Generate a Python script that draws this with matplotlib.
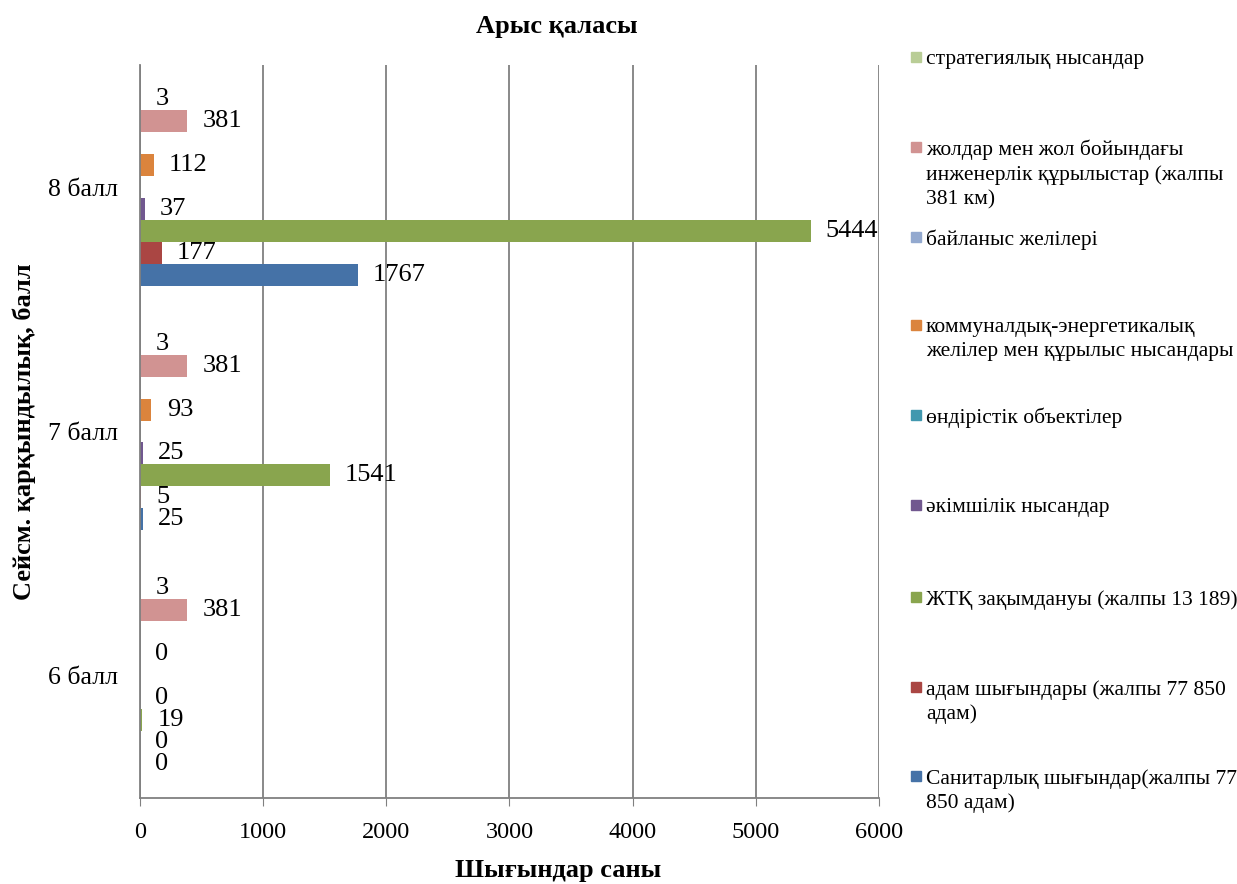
import matplotlib as mpl
import matplotlib.pyplot as plt
from matplotlib.patches import Rectangle

mpl.rcParams['font.family'] = ['Liberation Serif', 'DejaVu Serif']

categories = ['6 балл', '7 балл', '8 балл']

# series in drawing order (bottom bar of each group first)
series_names = [
    'Санитарлық шығындар(жалпы 77\n850 адам)',
    'адам шығындары (жалпы 77 850\nадам)',
    'ЖТҚ зақымдануы (жалпы 13 189)',
    'әкімшілік нысандар',
    'өндірістік объектілер',
    'коммуналдық-энергетикалық\nжелілер мен құрылыс нысандары',
    'байланыс желілері',
    'жолдар мен жол бойындағы\nинженерлік құрылыстар (жалпы\n381 км)',
    'стратегиялық нысандар',
]
sanitary = [0, 25, 1767]
human = [0, 5, 177]
housing = [19, 1541, 5444]
admin = [0, 25, 37]
industrial = [None, None, None]
utilities = [0, 93, 112]
comms = [None, None, None]
roads = [381, 381, 381]
strategic = [3, 3, 3]
series_values = [sanitary, human, housing, admin, industrial,
                 utilities, comms, roads, strategic]
colors = ['#4572A7', '#AA4643', '#89A54E', '#71588F', '#4198AF',
          '#DB843D', '#93A9CF', '#D19392', '#B9CD96']

fig = plt.figure(figsize=(12.37, 8.84), dpi=100)
ax = fig.add_axes([140/1237, 86/884, 739/1237, 733/884])

h = 0.09
n = len(series_names)
for i, (vals, col) in enumerate(zip(series_values, colors)):
    off = (i - (n - 1) / 2) * h
    for j, v in enumerate(vals):
        if v is None:
            continue
        y = j + off
        ax.barh(y, v, height=h, color=col, edgecolor='none')
        ax.annotate(str(v), xy=(v, y), xytext=(11, 0), textcoords='offset points',
                    ha='left', va='center', fontsize=19)

ax.set_xlim(0, 6000)
ax.set_ylim(-0.5, 2.5)
ax.set_xticks(range(0, 6001, 1000))
ax.set_yticks(range(len(categories)))
ax.set_yticklabels(categories)
ax.tick_params(axis='x', labelsize=17.5, length=6, color='#808080', pad=11)
ax.tick_params(axis='y', labelsize=18.5, length=0, pad=16)
ax.grid(axis='x', color='#808080', linewidth=1.3)
ax.set_axisbelow(True)
for s in ['top', 'right']:
    ax.spines[s].set_visible(False)
for s in ['left', 'bottom']:
    ax.spines[s].set_color('#808080')
    ax.spines[s].set_linewidth(1.3)

fig.text(557/1237, 1 - 27/884, 'Арыс қаласы', ha='center', va='center',
         fontsize=19, fontweight='bold')
fig.text(558/1237, 1 - 871/884, 'Шығындар саны', ha='center', va='center',
         fontsize=19, fontweight='bold')
fig.text(24/1237, 1 - 432/884, 'Сейсм. қарқындылық, балл', ha='center', va='center',
         rotation=90, fontsize=19, fontweight='bold')

# legend, top entry is the last series
legend_y = [57, 147, 237, 325, 415, 505, 597, 687, 776]
for k, y in enumerate(legend_y):
    i = n - 1 - k
    fig.patches.append(Rectangle((911/1237, 1 - (y + 5)/884), 10/1237, 10/884,
                                 color=colors[i], transform=fig.transFigure))
    fig.text(926/1237, 1 - (y - 7)/884, series_names[i], ha='left', va='top',
             fontsize=15.5, linespacing=1.33)

fig.savefig('out.png', dpi=100)
